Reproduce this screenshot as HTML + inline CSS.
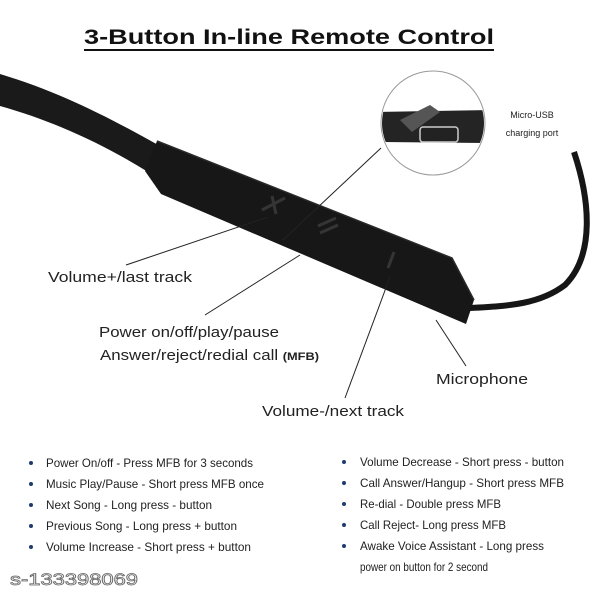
<!DOCTYPE html>
<html><head><meta charset="utf-8"><style>
html,body{margin:0;padding:0;background:#fff;}
svg{display:block;}
text{font-family:"Liberation Sans",sans-serif;}
</style></head><body>
<svg width="600" height="600" viewBox="0 0 600 600" xmlns="http://www.w3.org/2000/svg">
<rect width="600" height="600" fill="#fff"/>
<text x="289" y="44" font-size="21" font-weight="bold" text-anchor="middle" fill="#111" textLength="410" lengthAdjust="spacingAndGlyphs">3-Button In-line Remote Control</text>
<line x1="84" y1="50" x2="494" y2="50" stroke="#111" stroke-width="2"/>
<path d="M0,74 C60,92 110,118 160,146 L148,172 C100,142 50,120 0,106 Z" fill="#1a1a1a"/>
<path d="M157,141 L452,258 L474,300 L466,324 L161,194 L145,171 Z" fill="#171717"/>
<path d="M157,141 L452,258 L474,300" fill="none" stroke="#2a2a2a" stroke-width="1.5"/>
<path d="M262,210 L285,198 M272,196 L276,214" stroke="#353535" stroke-width="3"/>
<path d="M318,226 L336,218 M320,233 L338,225" stroke="#353535" stroke-width="3"/>
<path d="M388,268 L394,252" stroke="#353535" stroke-width="3"/>
<path d="M470,308 C510,306 540,304 565,285 C595,255 590,200 574,152" fill="none" stroke="#161616" stroke-width="6"/>
<circle cx="433" cy="123" r="52" fill="#fff" stroke="#999" stroke-width="1"/>
<clipPath id="c"><circle cx="433" cy="123" r="51"/></clipPath>
<g clip-path="url(#c)">
<path d="M375,112 L490,110 L490,143 L375,142 Z" fill="#242424"/>
<path d="M400,120 L430,105 L440,112 L412,132 Z" fill="#555"/>
<rect x="420" y="127" width="38" height="15" rx="3" fill="#222" stroke="#ccc" stroke-width="1.5"/>
</g>
<text x="532" y="118" font-size="9" text-anchor="middle" fill="#222">Micro-USB</text>
<text x="532" y="136" font-size="9" text-anchor="middle" fill="#222">charging port</text>
<g stroke="#222" stroke-width="1">
<line x1="381" y1="148" x2="283" y2="240"/>
<line x1="126" y1="265" x2="268" y2="217"/>
<line x1="205" y1="315" x2="300" y2="255"/>
<line x1="345" y1="398" x2="390" y2="277"/>
<line x1="466" y1="366" x2="436" y2="320"/>
</g>
<text x="48" y="282" font-size="14.5" fill="#222" textLength="144" lengthAdjust="spacingAndGlyphs">Volume+/last track</text>
<text x="99" y="337" font-size="14.5" fill="#222" textLength="180" lengthAdjust="spacingAndGlyphs">Power on/off/play/pause</text>
<text x="100" y="360" font-size="14.5" fill="#222" textLength="219" lengthAdjust="spacingAndGlyphs">Answer/reject/redial call <tspan font-size="11" font-weight="bold">(MFB)</tspan></text>
<text x="436" y="384" font-size="14.5" fill="#222" textLength="92" lengthAdjust="spacingAndGlyphs">Microphone</text>
<text x="262" y="416" font-size="14.5" fill="#222" textLength="142" lengthAdjust="spacingAndGlyphs">Volume-/next track</text>
<g fill="#1f3a6e">
<circle cx="31" cy="463" r="2"/><circle cx="31" cy="484" r="2"/><circle cx="31" cy="505" r="2"/><circle cx="31" cy="526" r="2"/><circle cx="31" cy="547" r="2"/>
<circle cx="344" cy="462" r="2"/><circle cx="344" cy="483" r="2"/><circle cx="344" cy="504" r="2"/><circle cx="344" cy="525" r="2"/><circle cx="344" cy="546" r="2"/>
</g>
<g font-size="12" fill="#222">
<text x="46" y="467" textLength="207" lengthAdjust="spacingAndGlyphs">Power On/off - Press MFB for 3 seconds</text>
<text x="46" y="488" textLength="218" lengthAdjust="spacingAndGlyphs">Music Play/Pause - Short press MFB once</text>
<text x="46" y="509" textLength="166" lengthAdjust="spacingAndGlyphs">Next Song - Long press - button</text>
<text x="46" y="530" textLength="191" lengthAdjust="spacingAndGlyphs">Previous Song - Long press + button</text>
<text x="46" y="551" textLength="205" lengthAdjust="spacingAndGlyphs">Volume Increase - Short press + button</text>
<text x="360" y="466" textLength="204" lengthAdjust="spacingAndGlyphs">Volume Decrease - Short press - button</text>
<text x="360" y="487" textLength="204" lengthAdjust="spacingAndGlyphs">Call Answer/Hangup - Short press MFB</text>
<text x="360" y="508" textLength="141" lengthAdjust="spacingAndGlyphs">Re-dial - Double press MFB</text>
<text x="360" y="529" textLength="146" lengthAdjust="spacingAndGlyphs">Call Reject- Long press MFB</text>
<text x="360" y="550" textLength="184" lengthAdjust="spacingAndGlyphs">Awake Voice Assistant - Long press</text>
<text x="360" y="571" textLength="128" lengthAdjust="spacingAndGlyphs">power on button for 2 second</text>
</g>
<text x="10" y="585" font-size="17" fill="#fff" stroke="#666" stroke-width="0.8" textLength="128" lengthAdjust="spacingAndGlyphs">s-133398069</text>
</svg>
</body></html>
